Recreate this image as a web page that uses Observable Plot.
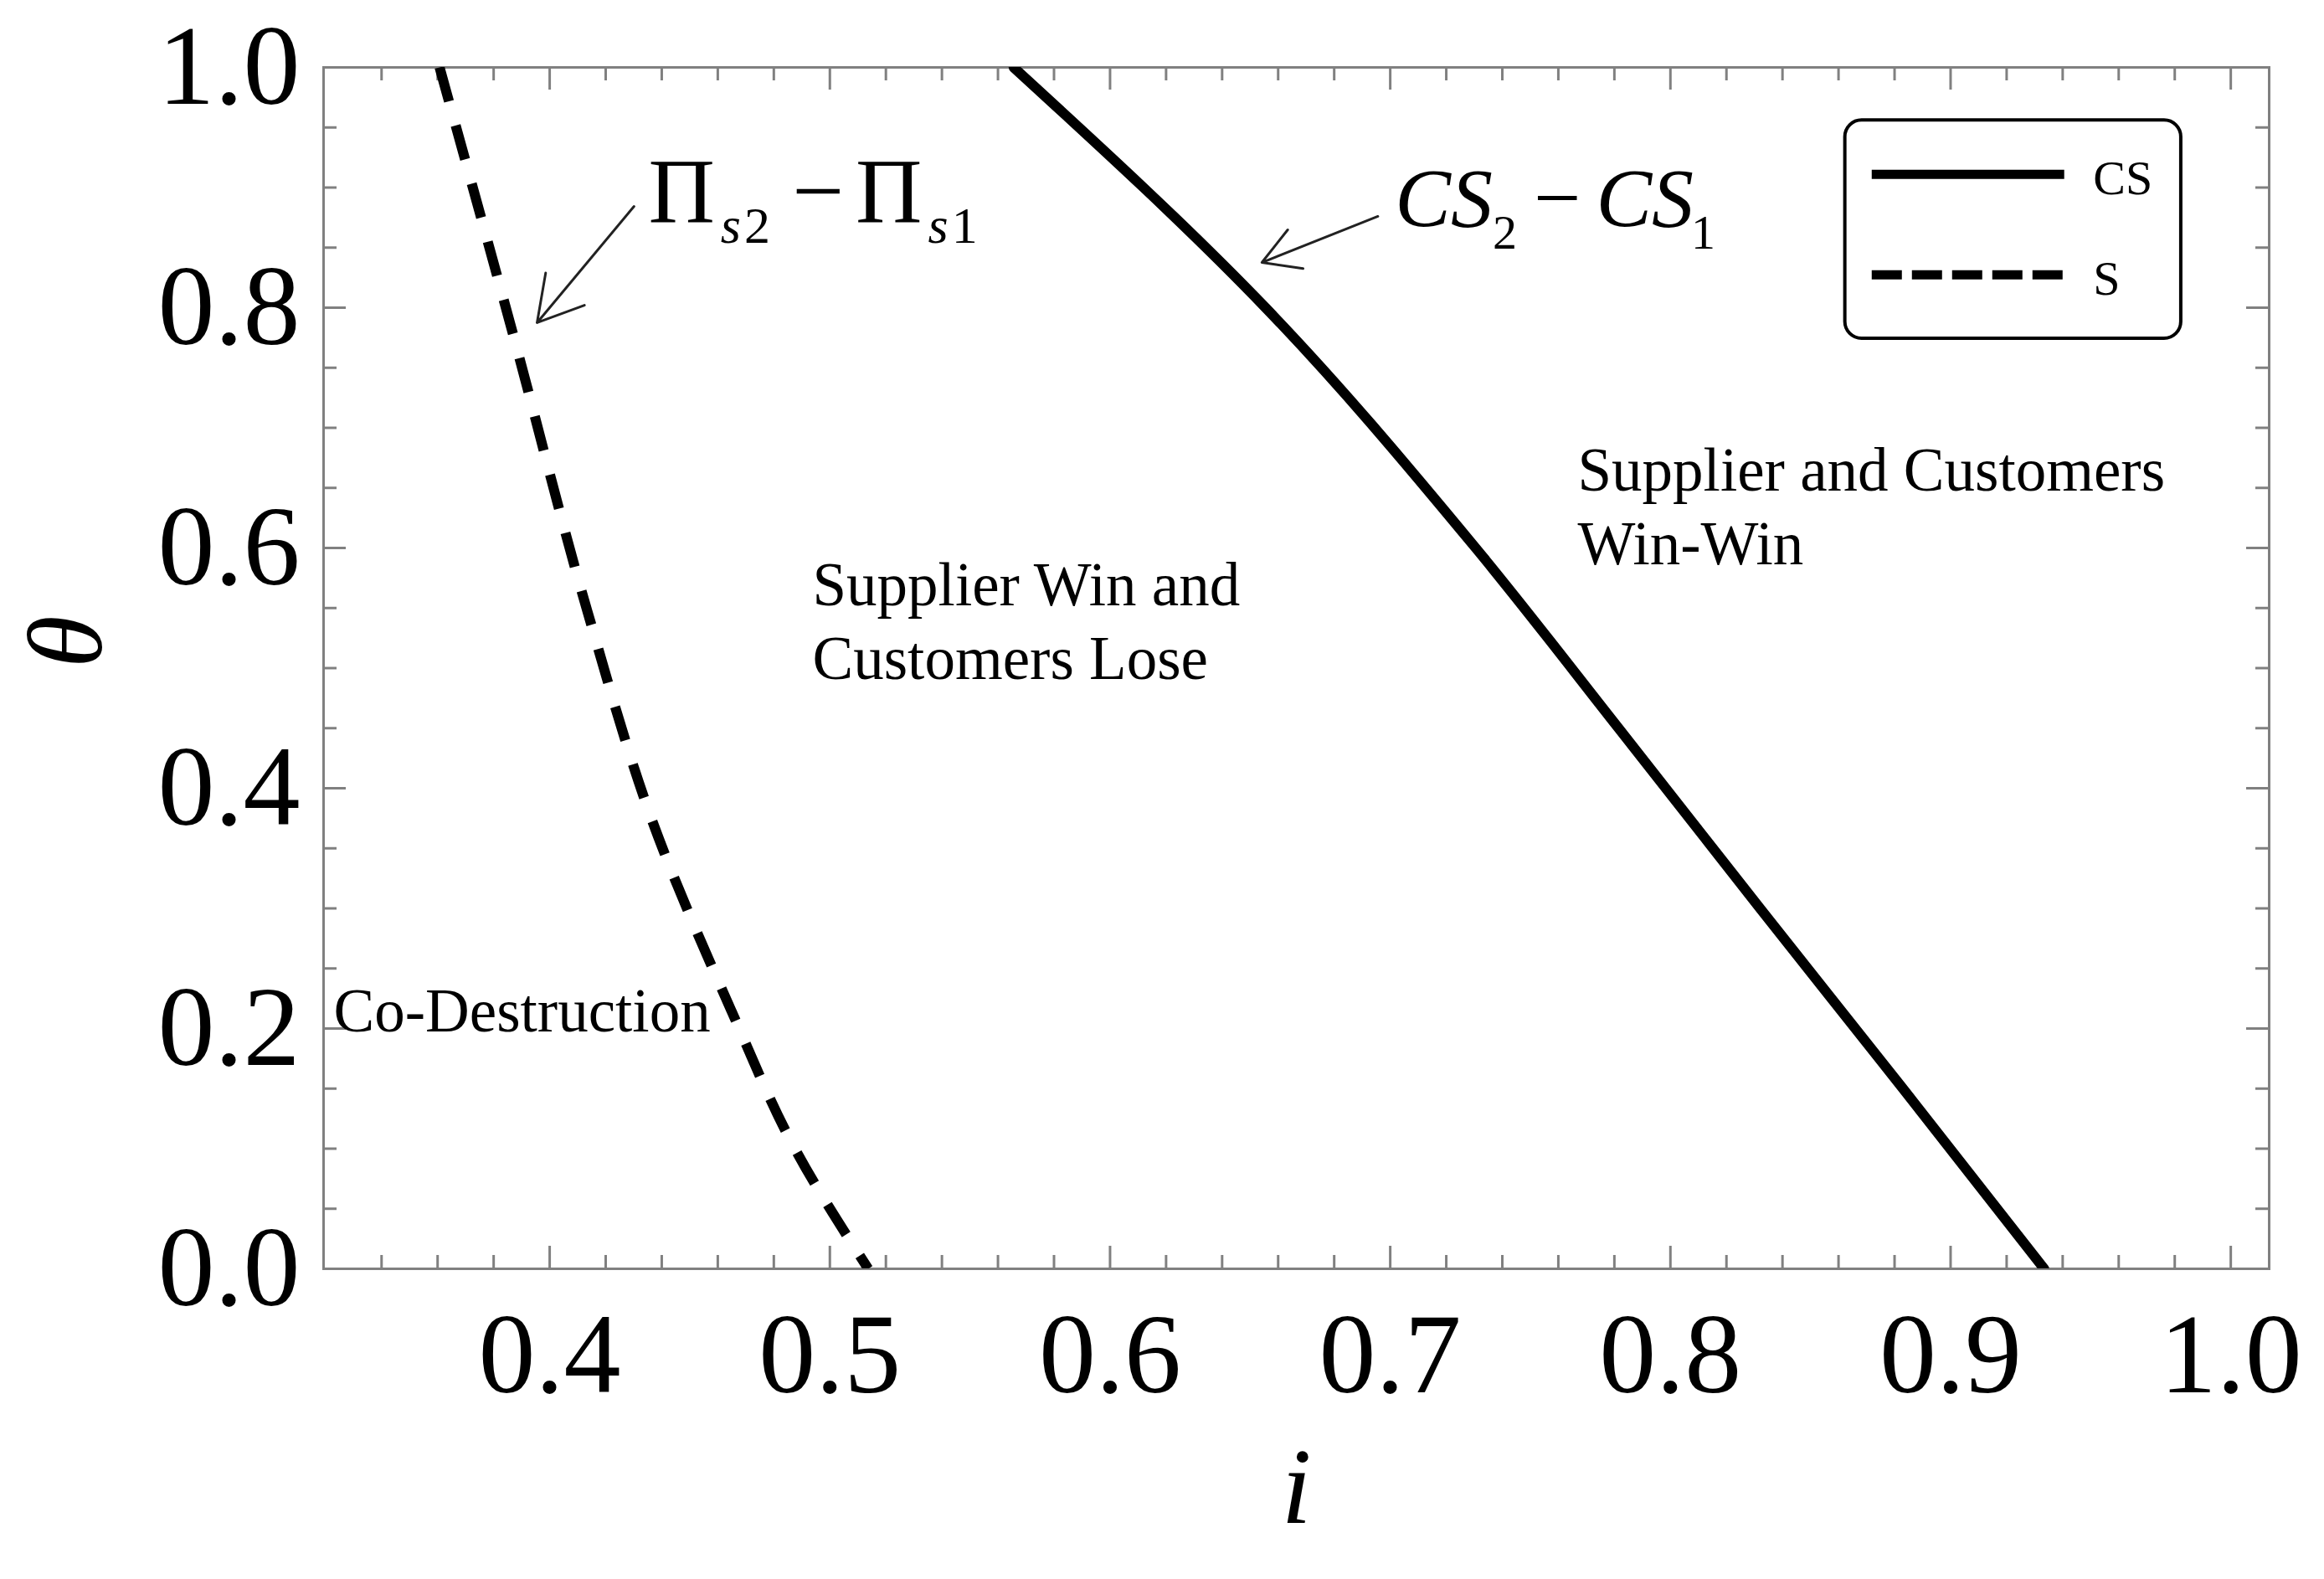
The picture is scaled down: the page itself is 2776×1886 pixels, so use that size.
<!DOCTYPE html>
<html>
<head>
<meta charset="utf-8">
<script src="https://cdn.jsdelivr.net/npm/d3@7"></script>
<script src="https://cdn.jsdelivr.net/npm/@observablehq/plot@0.6"></script>
<style>
  html, body { margin: 0; padding: 0; background: #fff; }
  svg { display: block; }
</style>
</head>
<body>
<div id="chart"></div>
<script>
// ---- Data ----
// CS2 - CS1 = 0 boundary (solid)
const thetaCS = [0, 0.15, 0.3, 0.45, 0.6, 0.8, 1.0];
const iCS     = [0.9334, 0.883, 0.832, 0.7815, 0.7305, 0.6555, 0.5656];
// Πs2 - Πs1 = 0 boundary (dashed), listed from top to bottom
const thetaS = [1.0, 0.779, 0.547, 0.371, 0.214, 0.0997, 0];
const iS     = [0.3607, 0.3868, 0.4135, 0.4369, 0.465, 0.4876, 0.5137];

// Ticks
const xTickLabels = [0.4, 0.5, 0.6, 0.7, 0.8, 0.9, 1.0];
const xMinorTicks = [0.34,0.36,0.38,0.42,0.44,0.46,0.48,0.52,0.54,0.56,0.58,0.62,0.64,0.66,0.68,0.72,0.74,0.76,0.78,0.82,0.84,0.86,0.88,0.92,0.94,0.96,0.98];
const yTickLabels = [0, 0.2, 0.4, 0.6, 0.8, 1.0];
const yMinorTicks = [0.05,0.1,0.15,0.25,0.3,0.35,0.45,0.5,0.55,0.65,0.7,0.75,0.85,0.9,0.95];

// Annotation texts
const regionLabels = ["Co-Destruction", "Supplier Win and\nCustomers Lose", "Supplier and Customers\nWin-Win"];
const legendLabels = ["CS", "S"];
const axisLabelX = "i";
const axisLabelY = "θ";

// ---- Layout (annotation anchors in data units) ----
const xDomain = [0.3193, 1.0137];
const yDomain = [0, 1];
const W = 2776, H = 1886;
const mL = 386, mR = 66, mT = 80, mB = 371;
const plotW = W - mL - mR, plotH = H - mT - mB;
const pxX = (xDomain[1] - xDomain[0]) / plotW; // data units per px (x)
const pxY = (yDomain[1] - yDomain[0]) / plotH; // data units per px (y)

const regionI = [0.3229, 0.4938, 0.7669];
const regionT = [0.217, 0.541, 0.6365];

const piPos = {i: 0.4352, t: 0.8963};
const csPos = {i: 0.7017, t: 0.8899};
const arrowsData = [
  {x1: 0.4301, y1: 0.8843, x2: 0.3955, y2: 0.7875},
  {x1: 0.6956, y1: 0.8760, x2: 0.6542, y2: 0.8376}
];
const legendBox = {x1: 0.8624, x2: 0.9823, y1: 0.7742, y2: 0.9559};
const legendRowT = [0.911, 0.8274];
const legendLineX = [0.8720, 0.9407];
const legendTextI = 0.9509;
const legendTextT = [0.9073, 0.8236];

const serif = '"Liberation Serif", "Times New Roman", Times, serif';
const gray = "#808080";

const csData = thetaCS.map((t, k) => ({theta: t, i: iCS[k]}));
const sData = thetaS.map((t, k) => ({theta: t, i: iS[k]}));

const majLen = 27, minLen = 16;

const chart = Plot.plot({
  width: W, height: H,
  marginLeft: mL, marginRight: mR, marginTop: mT, marginBottom: mB,
  x: {domain: xDomain},
  y: {domain: yDomain},
  style: {fontFamily: serif, color: "black", background: "white"},
  marks: [
    // inward ticks: bottom & top
    Plot.ruleX(xTickLabels, {x: d => d, y1: yDomain[0], y2: yDomain[0] + majLen * pxY, stroke: gray, strokeWidth: 3}),
    Plot.ruleX(xMinorTicks, {x: d => d, y1: yDomain[0], y2: yDomain[0] + minLen * pxY, stroke: gray, strokeWidth: 3}),
    Plot.ruleX(xTickLabels, {x: d => d, y1: yDomain[1], y2: yDomain[1] - majLen * pxY, stroke: gray, strokeWidth: 3}),
    Plot.ruleX(xMinorTicks, {x: d => d, y1: yDomain[1], y2: yDomain[1] - minLen * pxY, stroke: gray, strokeWidth: 3}),
    // inward ticks: left & right
    Plot.ruleY(yTickLabels, {y: d => d, x1: xDomain[0], x2: xDomain[0] + majLen * pxX, stroke: gray, strokeWidth: 3}),
    Plot.ruleY(yMinorTicks, {y: d => d, x1: xDomain[0], x2: xDomain[0] + minLen * pxX, stroke: gray, strokeWidth: 3}),
    Plot.ruleY(yTickLabels, {y: d => d, x1: xDomain[1], x2: xDomain[1] - majLen * pxX, stroke: gray, strokeWidth: 3}),
    Plot.ruleY(yMinorTicks, {y: d => d, x1: xDomain[1], x2: xDomain[1] - minLen * pxX, stroke: gray, strokeWidth: 3}),
    Plot.frame({stroke: gray, strokeWidth: 3}),

    // axes (labels only)
    Plot.axisX({ticks: xTickLabels, tickSize: 0, tickPadding: 51, fontSize: 136, tickFormat: d3.format(".1f"), label: null}),
    Plot.axisY({ticks: yTickLabels, tickSize: 0, tickPadding: 28, fontSize: 136, tickFormat: d3.format(".1f"), label: null}),

    // curves
    Plot.line(csData, {x: "i", y: "theta", curve: "monotone-y", stroke: "black", strokeWidth: 12, clip: true}),
    Plot.line(sData, {x: "i", y: "theta", curve: "monotone-y", stroke: "black", strokeWidth: 12, strokeDasharray: "42,30", strokeLinecap: "butt", clip: true}),

    // region labels
    Plot.text(regionLabels, {x: (d, k) => regionI[k], y: (d, k) => regionT[k], text: d => d, textAnchor: "start", lineAnchor: "middle", lineHeight: 1.2, fontSize: 73, fill: "black"}),

    // math labels (subscripts added afterwards)
    Plot.text(["Πs2−Πs1"], {x: () => piPos.i, y: () => piPos.t, text: d => d, textAnchor: "start", fontSize: 110, fill: "black"}),
    Plot.text(["CS2−CS1"], {x: () => csPos.i, y: () => csPos.t, text: d => d, textAnchor: "start", fontSize: 100, fill: "black"}),
    Plot.arrow(arrowsData, {x1: "x1", y1: "y1", x2: "x2", y2: "y2", stroke: "#222", strokeWidth: 3, headLength: 37, headAngle: 60}),

    // axis titles
    Plot.text([axisLabelX], {frameAnchor: "bottom", dy: 303, text: d => d, fontSize: 130, fontStyle: "italic", fill: "black"}),
    Plot.text([axisLabelY], {frameAnchor: "left", dx: -306, rotate: -90, text: d => d, fontSize: 128, fontStyle: "italic", fill: "black"}),

    // legend
    Plot.rect([0], {x1: () => legendBox.x1, x2: () => legendBox.x2, y1: () => legendBox.y1, y2: () => legendBox.y2, rx: 20, fill: "white", stroke: "black", strokeWidth: 4}),
    Plot.ruleY([legendRowT[0]], {y: d => d, x1: legendLineX[0], x2: legendLineX[1], stroke: "black", strokeWidth: 11}),
    Plot.ruleY([legendRowT[1]], {y: d => d, x1: legendLineX[0], x2: legendLineX[1], stroke: "black", strokeWidth: 11, strokeDasharray: "36,12"}),
    Plot.text(legendLabels, {x: () => legendTextI, y: (d, k) => legendTextT[k], text: d => d, textAnchor: "start", fontSize: 58, fill: "black"})
  ]
});

// Rich text for the math labels (subscripts via tspans)
function richify(content, parts) {
  d3.select(chart).selectAll("text").each(function() {
    if (this.textContent === content) {
      const sel = d3.select(this);
      sel.text(null);
      for (const p of parts) {
        const t = sel.append("tspan").text(p.t);
        if (p.dx != null) t.attr("dx", p.dx);
        if (p.dy != null) t.attr("dy", p.dy);
        if (p.size != null) t.attr("font-size", p.size);
        t.attr("font-style", p.italic ? "italic" : "normal");
      }
    }
  });
}
richify("Πs2−Πs1", [
  {t: "Π"},
  {t: "s", dx: 7, dy: 26, size: 62, italic: true},
  {t: "2", dx: 4, size: 62},
  {t: "−", dx: 26, dy: -26, size: 110},
  {t: "Π", dx: 14, size: 110},
  {t: "s", dx: 7, dy: 26, size: 62, italic: true},
  {t: "1", dx: 4, size: 62}
]);
richify("CS2−CS1", [
  {t: "CS", italic: true},
  {t: "2", dx: 0, dy: 27, size: 58},
  {t: "−", dx: 20, dy: -27, size: 100},
  {t: "CS", dx: 18, size: 100, italic: true},
  {t: "1", dx: -3, dy: 27, size: 58}
]);

document.getElementById("chart").appendChild(chart);
</script>
</body>
</html>
